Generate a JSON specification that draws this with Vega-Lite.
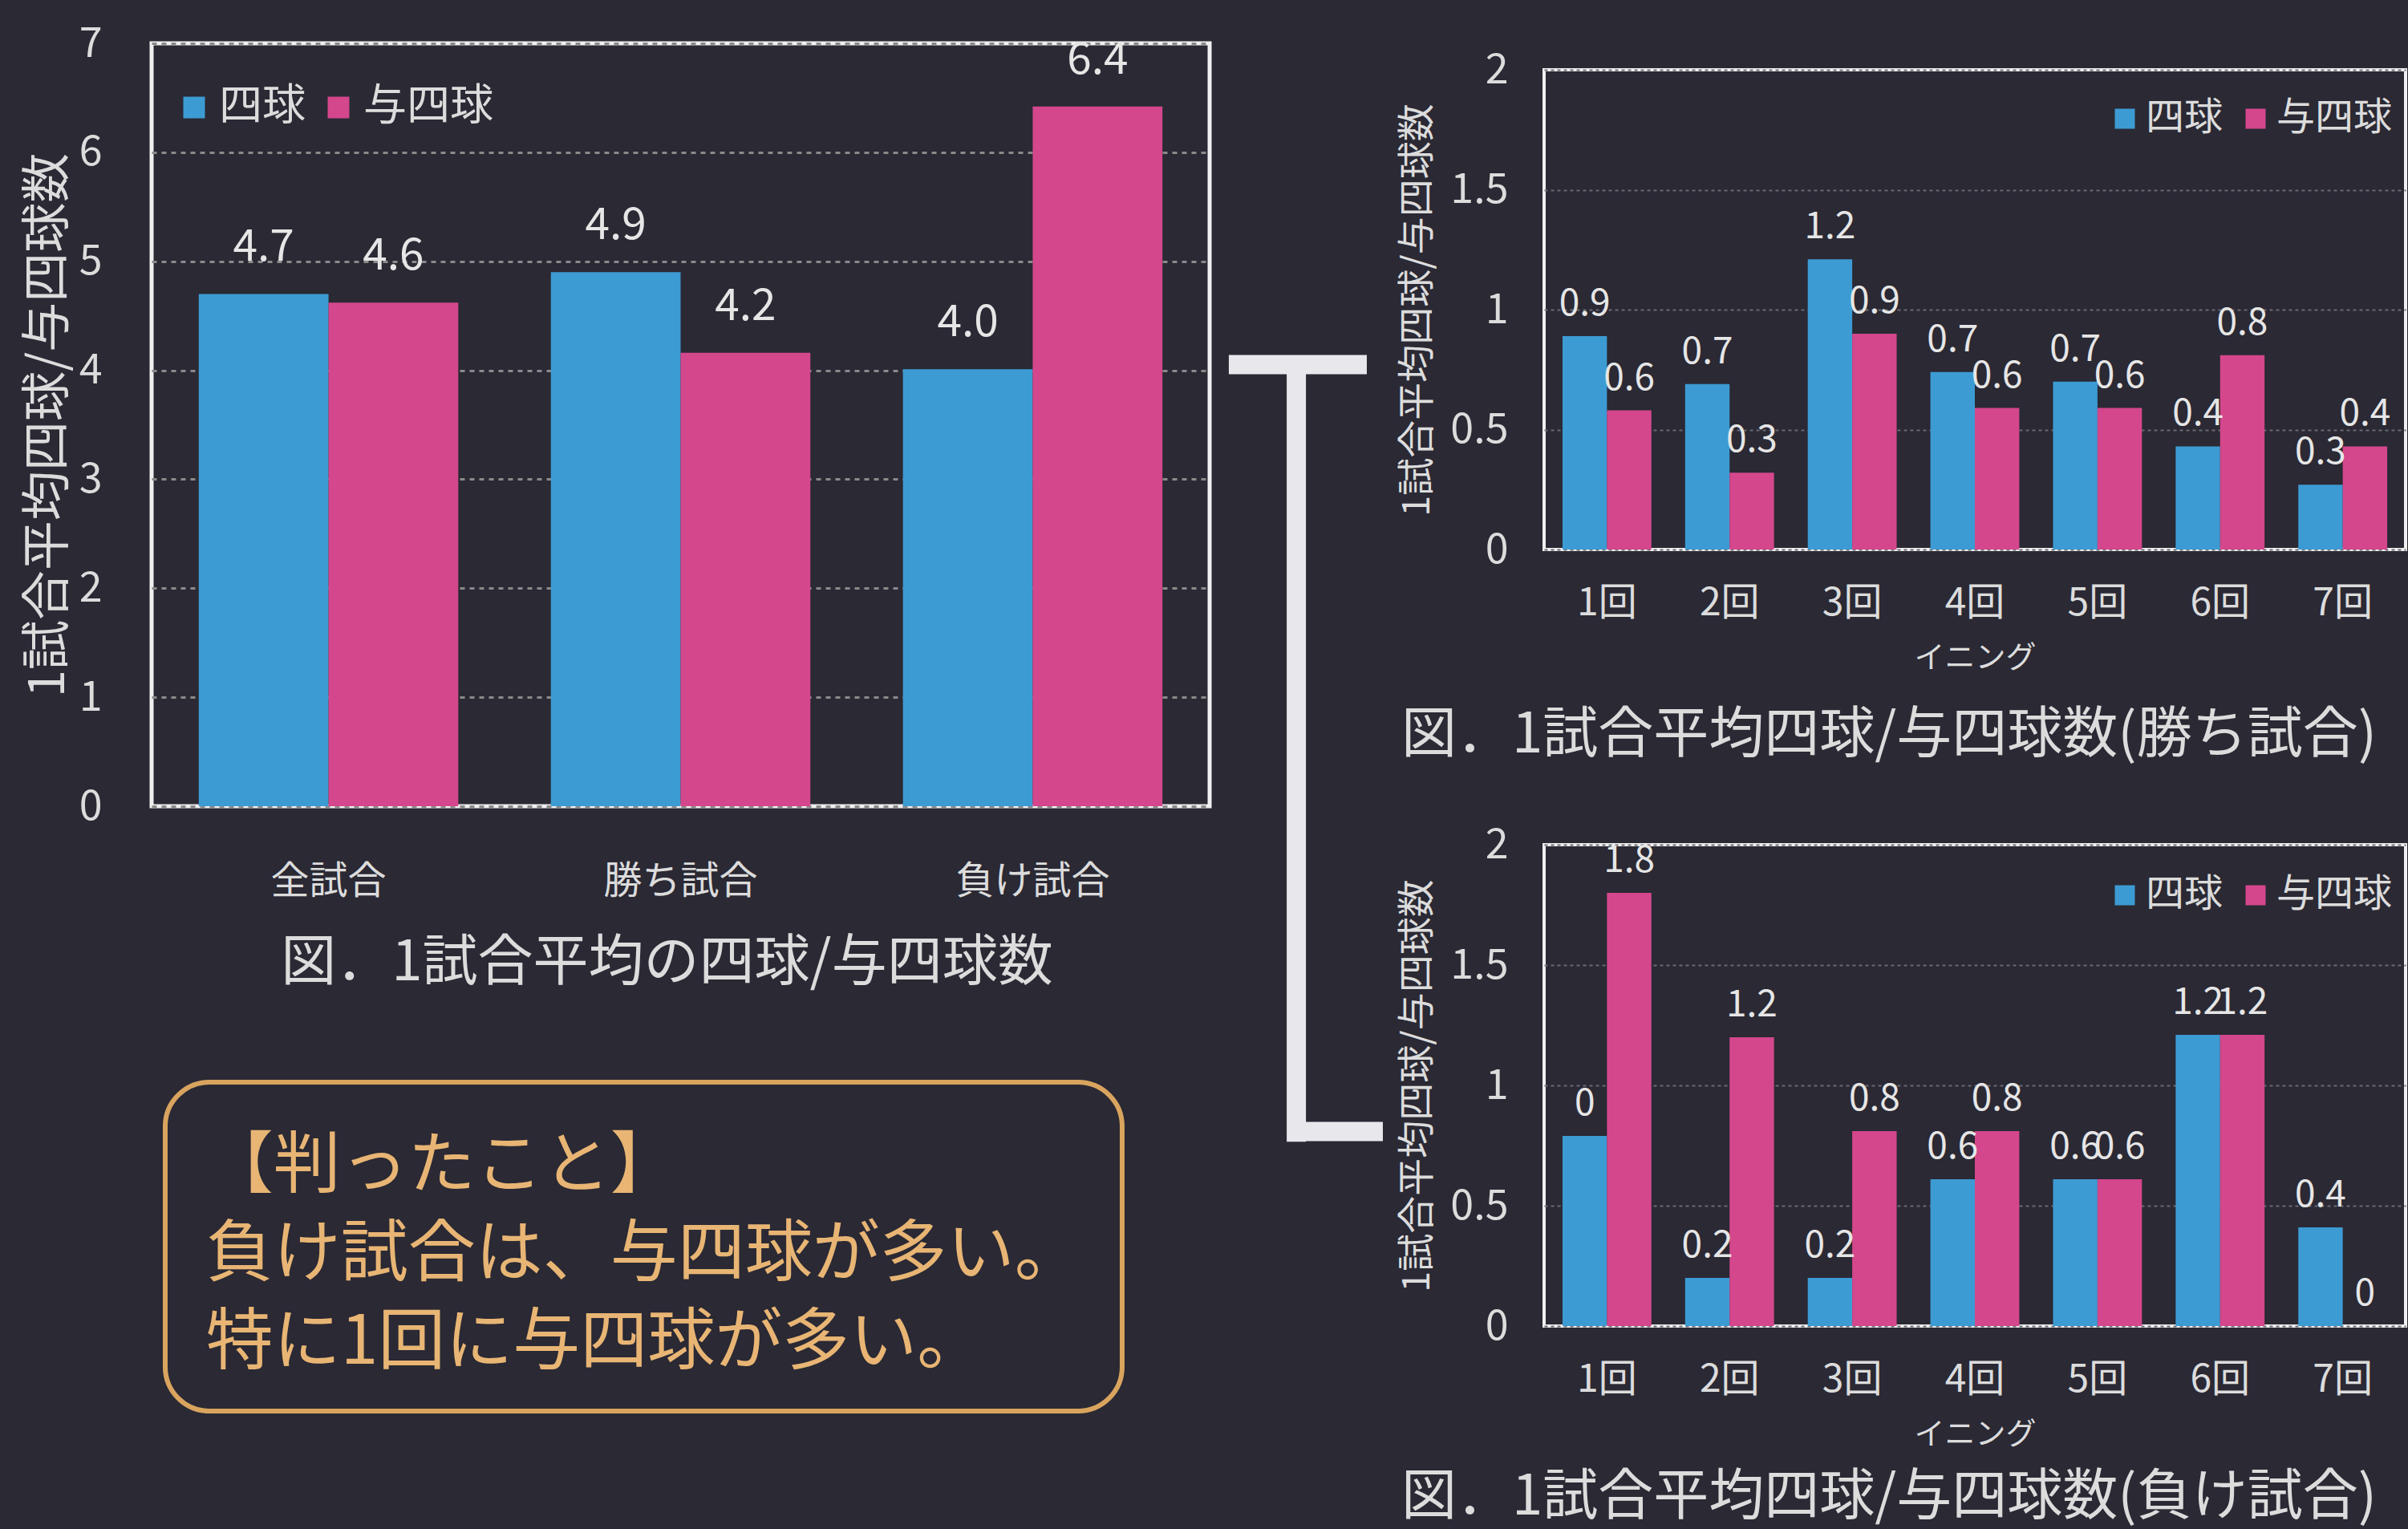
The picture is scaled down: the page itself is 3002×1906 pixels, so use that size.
{
  "$schema": "https://vega.github.io/schema/vega-lite/v6.json",
  "background": "#2a2934",
  "padding": {"left": 26, "top": 25, "right": 1, "bottom": 8},
  "autosize": {"type": "pad"},
  "config": {
    "font": "Noto Sans CJK JP",
    "view": {"stroke": "#f0f0f0", "strokeWidth": 5},
    "axis": {"labelColor": "#dcdcdc", "titleColor": "#dcdcdc", "titleFontWeight": "normal", "ticks": false, "domain": false, "labelLimit": 0, "titleLimit": 0},
    "legend": {"labelColor": "#dcdcdc", "labelLimit": 0},
    "title": {"color": "#dcdcdc", "fontWeight": "normal", "limit": 0}
  },
  "datasets": {
    "all": [
      {"game": "全試合", "type": "四球", "value": 4.7, "label": "4.7"},
      {"game": "全試合", "type": "与四球", "value": 4.62, "label": "4.6"},
      {"game": "勝ち試合", "type": "四球", "value": 4.9, "label": "4.9"},
      {"game": "勝ち試合", "type": "与四球", "value": 4.16, "label": "4.2"},
      {"game": "負け試合", "type": "四球", "value": 4.01, "label": "4.0"},
      {"game": "負け試合", "type": "与四球", "value": 6.42, "label": "6.4"}
    ],
    "win": [
      {"inning": "1回", "type": "四球", "value": 0.89, "label": "0.9"},
      {"inning": "1回", "type": "与四球", "value": 0.58, "label": "0.6"},
      {"inning": "2回", "type": "四球", "value": 0.69, "label": "0.7"},
      {"inning": "2回", "type": "与四球", "value": 0.32, "label": "0.3"},
      {"inning": "3回", "type": "四球", "value": 1.21, "label": "1.2"},
      {"inning": "3回", "type": "与四球", "value": 0.9, "label": "0.9"},
      {"inning": "4回", "type": "四球", "value": 0.74, "label": "0.7"},
      {"inning": "4回", "type": "与四球", "value": 0.59, "label": "0.6"},
      {"inning": "5回", "type": "四球", "value": 0.7, "label": "0.7"},
      {"inning": "5回", "type": "与四球", "value": 0.59, "label": "0.6"},
      {"inning": "6回", "type": "四球", "value": 0.43, "label": "0.4"},
      {"inning": "6回", "type": "与四球", "value": 0.81, "label": "0.8"},
      {"inning": "7回", "type": "四球", "value": 0.27, "label": "0.3"},
      {"inning": "7回", "type": "与四球", "value": 0.43, "label": "0.4"}
    ],
    "lose": [
      {"inning": "1回", "type": "四球", "value": 0.79, "label": "0"},
      {"inning": "1回", "type": "与四球", "value": 1.8, "label": "1.8"},
      {"inning": "2回", "type": "四球", "value": 0.2, "label": "0.2"},
      {"inning": "2回", "type": "与四球", "value": 1.2, "label": "1.2"},
      {"inning": "3回", "type": "四球", "value": 0.2, "label": "0.2"},
      {"inning": "3回", "type": "与四球", "value": 0.81, "label": "0.8"},
      {"inning": "4回", "type": "四球", "value": 0.61, "label": "0.6"},
      {"inning": "4回", "type": "与四球", "value": 0.81, "label": "0.8"},
      {"inning": "5回", "type": "四球", "value": 0.61, "label": "0.6"},
      {"inning": "5回", "type": "与四球", "value": 0.61, "label": "0.6"},
      {"inning": "6回", "type": "四球", "value": 1.21, "label": "1.2"},
      {"inning": "6回", "type": "与四球", "value": 1.21, "label": "1.2"},
      {"inning": "7回", "type": "四球", "value": 0.41, "label": "0.4"},
      {"inning": "7回", "type": "与四球", "value": 0, "label": "0"}
    ],
    "notes": [
      {"n": 1, "line": "【判ったこと】"},
      {"n": 2, "line": "負け試合は、与四球が多い。"},
      {"n": 3, "line": "特に1回に与四球が多い。"}
    ],
    "one": [{}]
  },
  "resolve": {"scale": {"color": "independent", "x": "independent", "y": "independent", "xOffset": "independent"}, "legend": {"color": "independent"}},
  "spacing": 0,
  "hconcat": [
    {
      "spacing": 106,
      "resolve": {"scale": {"color": "independent", "x": "independent", "y": "independent", "xOffset": "independent"}, "legend": {"color": "independent"}},
      "vconcat": [
        {
          "width": 1319,
          "height": 951,
          "data": {"name": "all"},
          "title": {"text": "図．1試合平均の四球/与四球数", "orient": "bottom", "fontSize": 69, "offset": 44, "dx": -17},
          "encoding": {
            "x": {"field": "game", "type": "nominal", "sort": ["全試合", "勝ち試合", "負け試合"], "scale": {"paddingInner": 0.263, "paddingOuter": 0.134}, "axis": {"title": null, "labelAngle": 0, "labelFontSize": 48, "labelPadding": 70}},
            "xOffset": {"field": "type", "sort": ["四球", "与四球"]},
            "y": {"field": "value", "type": "quantitative", "scale": {"domain": [0, 7], "nice": false}, "axis": {"values": [0, 1, 2, 3, 4, 5, 6, 7], "format": "d", "title": "1試合平均四球/与四球数", "titleFontSize": 62, "titlePadding": 6, "labelFontSize": 52, "labelPadding": 62, "grid": true, "gridDash": [6, 6], "gridColor": "#8a8a8a", "gridWidth": 3}}
          },
          "layer": [
            {
              "mark": {"type": "bar"},
              "encoding": {
                "color": {"field": "type", "type": "nominal", "scale": {"domain": ["四球", "与四球"], "range": ["#3d9bd3", "#d4478c"]}, "legend": {"title": null, "orient": "none", "legendX": 26, "legendY": 53, "direction": "horizontal", "symbolType": "square", "symbolSize": 730, "symbolStrokeWidth": 0, "labelFontSize": 54, "columnPadding": 14, "labelOffset": 4}}
              }
            },
            {
              "mark": {"type": "text", "baseline": "alphabetic", "dy": -41, "fontSize": 55, "color": "#e6e6e6"},
              "encoding": {"text": {"field": "label"}}
            }
          ]
        },
        {
          "width": 1230,
          "height": 416,
          "view": {"stroke": null},
          "layer": [
            {
              "data": {"name": "one"},
              "mark": {"type": "rect", "fillOpacity": 0, "stroke": "#d9a45e", "strokeWidth": 6, "cornerRadius": 55},
              "encoding": {
                "x": {"datum": 0.0138, "type": "quantitative", "scale": {"domain": [0, 1]}, "axis": null},
                "x2": {"datum": 0.9837},
                "y": {"datum": 0.0072, "type": "quantitative", "scale": {"domain": [0, 1]}, "axis": null},
                "y2": {"datum": 0.9928}
              }
            },
            {
              "data": {"name": "notes"},
              "mark": {"type": "text", "align": "left", "baseline": "middle", "dy": 11, "fontSize": 84, "color": "#e8b574"},
              "encoding": {
                "x": {"datum": 0.055, "type": "quantitative", "scale": {"domain": [0, 1]}, "axis": null},
                "y": {"field": "n", "type": "ordinal", "scale": {"type": "point", "padding": 0.89}, "axis": null},
                "text": {"field": "line"}
              }
            }
          ],
          "resolve": {"scale": {"y": "independent"}}
        }
      ]
    },
    {
      "width": 230,
      "height": 1400,
      "view": {"stroke": null},
      "data": {"name": "one"},
      "layer": [
        {
          "mark": {"type": "rule", "color": "#e8e8ec", "strokeWidth": 24, "strokeCap": "butt"},
          "encoding": {
            "x": {"datum": 0.091, "type": "quantitative", "scale": {"domain": [0, 1]}, "axis": null},
            "x2": {"datum": 0.839},
            "y": {"datum": 0.286, "type": "quantitative", "scale": {"domain": [0, 1], "reverse": true}, "axis": null}
          }
        },
        {
          "mark": {"type": "rule", "color": "#e8e8ec", "strokeWidth": 24, "strokeCap": "butt"},
          "encoding": {
            "x": {"datum": 0.457, "type": "quantitative", "scale": {"domain": [0, 1]}, "axis": null},
            "y": {"datum": 0.278, "type": "quantitative", "scale": {"domain": [0, 1], "reverse": true}, "axis": null},
            "y2": {"datum": 0.978}
          }
        },
        {
          "mark": {"type": "rule", "color": "#e8e8ec", "strokeWidth": 24, "strokeCap": "butt"},
          "encoding": {
            "x": {"datum": 0.409, "type": "quantitative", "scale": {"domain": [0, 1]}, "axis": null},
            "x2": {"datum": 0.926},
            "y": {"datum": 0.969, "type": "quantitative", "scale": {"domain": [0, 1], "reverse": true}, "axis": null}
          }
        }
      ]
    },
    {
      "spacing": 0,
      "resolve": {"scale": {"color": "independent", "x": "independent", "y": "independent", "xOffset": "independent"}, "legend": {"color": "independent"}},
      "vconcat": [
        {
          "width": 1,
          "height": 5,
          "view": {"stroke": null, "fill": "#2a2934"},
          "data": {"name": "one"},
          "mark": {"type": "rule", "opacity": 0},
          "encoding": {}
        },
        {
          "spacing": 71,
          "resolve": {"scale": {"color": "independent", "x": "independent", "y": "independent", "xOffset": "independent"}, "legend": {"color": "independent"}},
          "vconcat": [
            {
              "width": 1074,
              "height": 598,
              "data": {"name": "win"},
              "view": {"stroke": "#f0f0f0", "strokeWidth": 4},
              "title": {"text": "図．1試合平均四球/与四球数(勝ち試合)", "orient": "bottom", "fontSize": 69, "offset": 44, "dx": -107},
              "encoding": {
                "x": {"field": "inning", "type": "nominal", "sort": ["1回", "2回", "3回", "4回", "5回", "6回", "7回"], "scale": {"paddingInner": 0.275, "paddingOuter": 0.15}, "axis": {"title": "イニング", "titleFontSize": 38, "titlePadding": 25, "labelAngle": 0, "labelFontSize": 48, "labelPadding": 43}},
                "xOffset": {"field": "type", "sort": ["四球", "与四球"]},
                "y": {"field": "value", "type": "quantitative", "scale": {"domain": [0, 2], "nice": false}, "axis": {"values": [0, 0.5, 1, 1.5, 2], "format": "~g", "title": "1試合平均四球/与四球数", "titleFontSize": 47, "titlePadding": 16, "labelFontSize": 52, "labelPadding": 45, "grid": true, "gridDash": [4, 4], "gridColor": "#6a6a72", "gridWidth": 2}}
              },
              "layer": [
                {
                  "mark": {"type": "bar"},
                  "encoding": {
                    "color": {"field": "type", "type": "nominal", "scale": {"domain": ["四球", "与四球"], "range": ["#3d9bd3", "#d4478c"]}, "legend": {"title": null, "orient": "none", "legendX": 700, "legendY": 37, "direction": "horizontal", "symbolType": "square", "symbolSize": 625, "symbolStrokeWidth": 0, "labelFontSize": 48, "columnPadding": 16, "labelOffset": 2}}
                  }
                },
                {
                  "mark": {"type": "text", "baseline": "alphabetic", "dy": -26, "fontSize": 46, "color": "#e6e6e6"},
                  "encoding": {"text": {"field": "label"}}
                }
              ]
            },
            {
              "width": 1074,
              "height": 600,
              "data": {"name": "lose"},
              "view": {"stroke": "#f0f0f0", "strokeWidth": 4},
              "title": {"text": "図．1試合平均四球/与四球数(負け試合)", "orient": "bottom", "fontSize": 69, "offset": 26, "dx": -107},
              "encoding": {
                "x": {"field": "inning", "type": "nominal", "sort": ["1回", "2回", "3回", "4回", "5回", "6回", "7回"], "scale": {"paddingInner": 0.275, "paddingOuter": 0.15}, "axis": {"title": "イニング", "titleFontSize": 38, "titlePadding": 25, "labelAngle": 0, "labelFontSize": 48, "labelPadding": 43}},
                "xOffset": {"field": "type", "sort": ["四球", "与四球"]},
                "y": {"field": "value", "type": "quantitative", "scale": {"domain": [0, 2], "nice": false}, "axis": {"values": [0, 0.5, 1, 1.5, 2], "format": "~g", "title": "1試合平均四球/与四球数", "titleFontSize": 47, "titlePadding": 16, "labelFontSize": 52, "labelPadding": 45, "grid": true, "gridDash": [4, 4], "gridColor": "#6a6a72", "gridWidth": 2}}
              },
              "layer": [
                {
                  "mark": {"type": "bar"},
                  "encoding": {
                    "color": {"field": "type", "type": "nominal", "scale": {"domain": ["四球", "与四球"], "range": ["#3d9bd3", "#d4478c"]}, "legend": {"title": null, "orient": "none", "legendX": 700, "legendY": 39, "direction": "horizontal", "symbolType": "square", "symbolSize": 625, "symbolStrokeWidth": 0, "labelFontSize": 48, "columnPadding": 16, "labelOffset": 2}}
                  }
                },
                {
                  "mark": {"type": "text", "baseline": "alphabetic", "dy": -26, "fontSize": 46, "color": "#e6e6e6"},
                  "encoding": {"text": {"field": "label"}}
                }
              ]
            }
          ]
        }
      ]
    }
  ]
}
